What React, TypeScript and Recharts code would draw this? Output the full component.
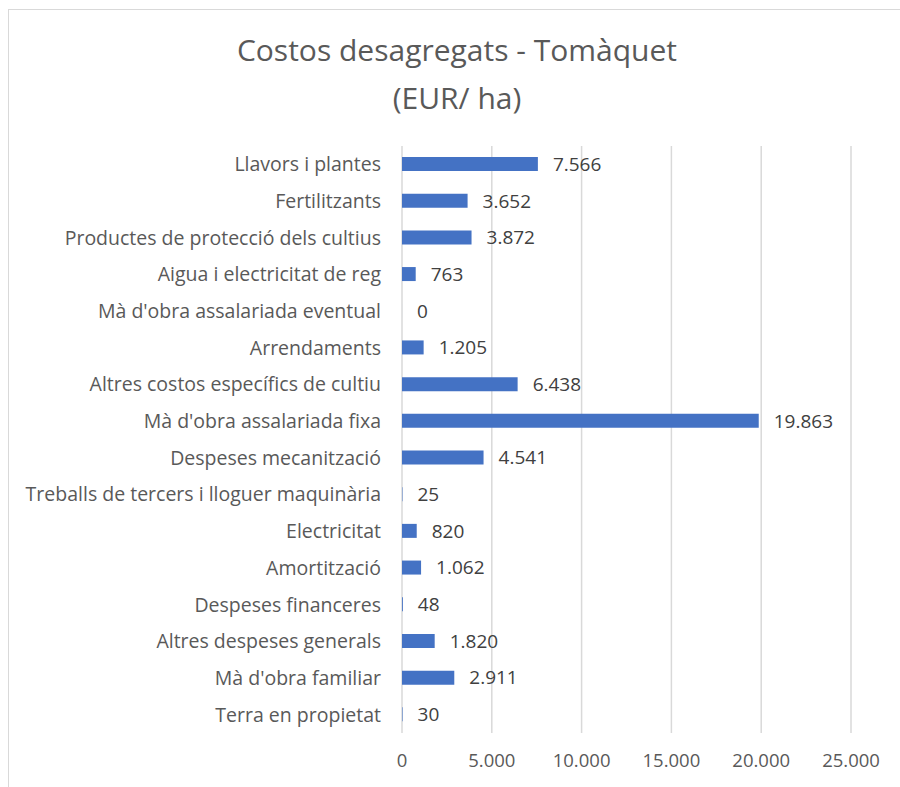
import React from 'react'
import { BarChart, Bar, XAxis, YAxis, CartesianGrid, LabelList } from 'recharts'

const categories = [
  'Llavors i plantes',
  'Fertilitzants',
  'Productes de protecció dels cultius',
  'Aigua i electricitat de reg',
  "Mà d'obra assalariada eventual",
  'Arrendaments',
  'Altres costos específics de cultiu',
  "Mà d'obra assalariada fixa",
  'Despeses mecanització',
  'Treballs de tercers i lloguer maquinària',
  'Electricitat',
  'Amortització',
  'Despeses financeres',
  'Altres despeses generals',
  "Mà d'obra familiar",
  'Terra en propietat',
]

const costs = [7566, 3652, 3872, 763, 0, 1205, 6438, 19863, 4541, 25, 820, 1062, 48, 1820, 2911, 30]

const xTicks = [0, 5000, 10000, 15000, 20000, 25000]

const data = categories.map((name, i) => ({ name, value: costs[i] }))

const fmt = (v: number) => String(v).replace(/\B(?=(\d{3})+(?!\d))/g, '.')

const font = '"Open Sans", sans-serif'

// custom label so the zero bar still gets its "0"
const ValueLabel = (props: any) => {
  const { x, y, width, height, value } = props
  return (
    <text
      x={Number(x) + Number(width || 0) + 15}
      y={Number(y) + Number(height) / 2}
      dy="0.36em"
      fill="#404040"
      fontSize={19}
      fontFamily={font}
    >
      {fmt(Number(value))}
    </text>
  )
}

export default function App() {
  return (
    <div style={{ position: 'absolute', left: 0, top: 0, width: 900, height: 787, background: '#fff', overflow: 'hidden', fontFamily: font }}>
      <div
        style={{
          position: 'absolute',
          left: 8,
          top: 9,
          width: 920,
          height: 800,
          border: '1.5px solid #d9d9d9',
          boxSizing: 'border-box',
        }}
      />
      <div style={{ position: 'absolute', left: 8, width: 898, top: 26, textAlign: 'center', color: '#595959', fontSize: 30, lineHeight: '48px' }}>
        Costos desagregats - Tomàquet
        <br />
        (EUR/ ha)
      </div>
      <div style={{ position: 'absolute', left: 0, top: 0 }}>
        <BarChart
          width={900}
          height={787}
          data={data}
          layout="vertical"
          margin={{ top: 146, right: 49, left: 0, bottom: 0 }}
          barSize={14}
        >
          <CartesianGrid horizontal={false} stroke="#d9d9d9" strokeWidth={1.5} />
          <XAxis
            type="number"
            domain={[0, 25000]}
            ticks={xTicks}
            tickFormatter={fmt}
            axisLine={false}
            tickLine={false}
            tickSize={0}
            tickMargin={21}
            height={54}
            tick={{ fill: '#595959', fontSize: 18.5, fontFamily: font }}
          />
          <YAxis
            type="category"
            dataKey="name"
            width={402}
            axisLine={false}
            tickLine={false}
            tickSize={0}
            tickMargin={21}
            interval={0}
            tick={{ fill: '#595959', fontSize: 19.5, fontFamily: font }}
          />
          <Bar dataKey="value" fill="#4472c4" minPointSize={0.01} isAnimationActive={false}>
            <LabelList dataKey="value" content={ValueLabel} />
          </Bar>
        </BarChart>
      </div>
    </div>
  )
}
